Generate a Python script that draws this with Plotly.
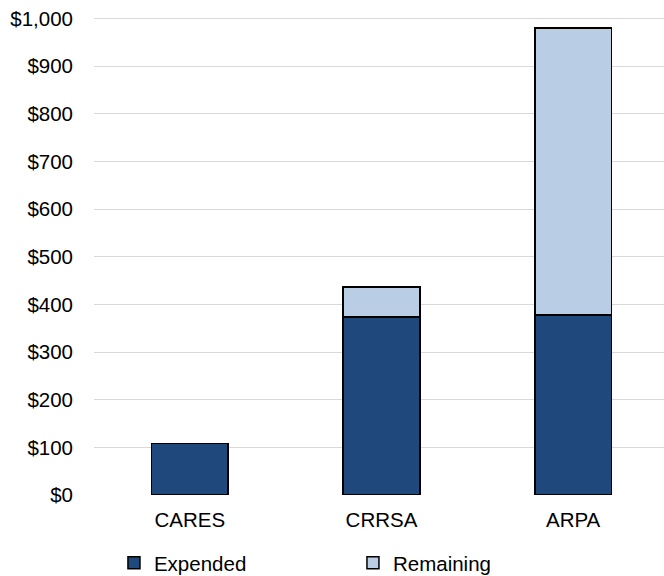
import plotly.graph_objects as go

categories = ["CARES", "CRRSA", "ARPA"]
expended = [108, 373, 378]
remaining = [0, 63, 602]
y_ticks = [0, 100, 200, 300, 400, 500, 600, 700, 800, 900, 1000]
y_tick_labels = ["$0", "$100", "$200", "$300", "$400", "$500", "$600", "$700", "$800", "$900", "$1,000"]

dark = "#1F497D"
light = "#B9CDE5"

fig = go.Figure()
fig.add_trace(go.Bar(
    x=[0, 1, 2], y=expended, name="Expended", width=0.4,
    marker=dict(color=dark, line=dict(color="black", width=1.5)),
))
fig.add_trace(go.Bar(
    x=[0, 1, 2], y=remaining, name="Remaining", width=0.4,
    marker=dict(color=light, line=dict(color="black", width=1.5)),
))

fig.update_layout(
    barmode="stack",
    width=664, height=576,
    margin=dict(l=94, r=0, t=17, b=81, autoexpand=False),
    paper_bgcolor="white", plot_bgcolor="white",
    font=dict(family="Liberation Sans, Arial, sans-serif", size=20.5, color="black"),
    showlegend=True,
    legend=dict(
        orientation="h", x=0.035, xanchor="left",
        yref="container", y=0.0226, yanchor="middle",
        entrywidth=194, entrywidthmode="pixels",
        font=dict(size=20.5), traceorder="normal",
    ),
    bargap=0.6,
)
fig.update_xaxes(
    range=[-0.5, 2.474], tickmode="array", tickvals=[0, 1, 2], ticktext=categories,
    showgrid=False, zeroline=False, showline=False, ticks="", ticklabelstandoff=10,
    automargin=False,
)
fig.update_yaxes(
    range=[0, 1003], tickmode="array", tickvals=y_ticks, ticktext=y_tick_labels,
    showgrid=True, gridcolor="#D9D9D9", gridwidth=1, zeroline=False, showline=False,
    ticks="", ticklabelstandoff=20, automargin=False, ticklabeloverflow="allow",
)

fig.write_html("out.html", config={"displayModeBar": False},
               post_script="document.body.style.margin='0';")
